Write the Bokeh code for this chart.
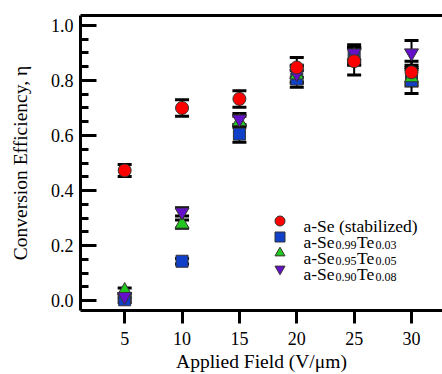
from bokeh.plotting import figure
from bokeh.models import (ColumnDataSource, Whisker, TeeHead, LinearAxis, Legend, LegendItem,
                          SingleIntervalTicker, FixedTicker, PrintfTickFormatter, Range1d, Label)
from bokeh.embed import file_html
from bokeh.resources import INLINE

# ---- data ----
field = [5, 10, 15, 20, 25, 30]
se_stab = [0.473, 0.700, 0.733, 0.847, 0.870, 0.830]
se_stab_err = [0.022, 0.030, 0.030, 0.036, 0.050, 0.040]
te03 = [0.003, 0.143, 0.605, 0.805, 0.885, 0.800]
te03_err = [0.010, 0.010, 0.030, 0.030, 0.030, 0.047]
te05 = [0.036, 0.278, 0.650, 0.820, 0.890, 0.810]
te05_err = [0.010, 0.015, 0.020, 0.030, 0.030, 0.030]
te08 = [0.015, 0.322, 0.660, 0.825, 0.900, 0.900]
te08_err = [0.010, 0.015, 0.020, 0.030, 0.030, 0.045]
# legend labels: (main, subscript, main, subscript)
label_parts = [
    ("a-Se (stabilized)", "", "", ""),
    ("a-Se", "0.99", "Te", "0.03"),
    ("a-Se", "0.95", "Te", "0.05"),
    ("a-Se", "0.90", "Te", "0.08"),
]
x_ticks = [5, 10, 15, 20, 25, 30]

FONT = "Liberation Serif"

p = figure(width=442, height=374, output_backend="svg", toolbar_location=None,
           x_range=Range1d(1.15, 32.7), y_range=Range1d(-0.036, 1.036),
           min_border_left=80, min_border_right=0, min_border_top=15, min_border_bottom=64)
p.outline_line_color = None
p.xgrid.visible = False
p.ygrid.visible = False
p.background_fill_color = "white"
p.border_fill_color = "white"

xa = p.xaxis[0]
xa.ticker = FixedTicker(ticks=x_ticks)
xa.axis_label = "Applied Field (V/\u03bcm)"
ya = p.yaxis[0]
ya.ticker = SingleIntervalTicker(interval=0.2, num_minor_ticks=4)
ya.formatter = PrintfTickFormatter(format="%.1f")
ya.axis_label = "Conversion Efficiency, \u03b7"

for ax in (xa, ya):
    ax.axis_line_width = 3
    ax.major_tick_line_width = 3
    ax.minor_tick_line_width = 3
    ax.major_label_text_font = FONT
    ax.major_label_text_font_size = "18px"
    ax.major_label_text_color = "black"
    ax.axis_label_text_font = FONT
    ax.axis_label_text_font_size = "19.5px"
    ax.axis_label_text_font_style = "normal"
    ax.axis_label_text_color = "black"

xa.major_tick_in = 0
xa.major_tick_out = 13
xa.minor_tick_in = 0
xa.minor_tick_out = 0
xa.major_label_standoff = 8
xa.axis_label_standoff = 3

ya.major_tick_in = 16
ya.major_tick_out = 0
ya.minor_tick_in = 8
ya.minor_tick_out = 0
ya.major_label_standoff = 7
ya.axis_label_standoff = 17

top = LinearAxis(ticker=FixedTicker(ticks=[]), axis_line_width=3,
                 major_tick_in=0, major_tick_out=0, minor_tick_in=0, minor_tick_out=0,
                 major_label_text_font_size="0px")
p.add_layout(top, "above")

series = [
    (te03, te03_err, "square", "#1040C8", 12),
    (te05, te05_err, "triangle", "#22C81E", 14),
    (te08, te08_err, "inverted_triangle", "#6410C8", 14),
    (se_stab, se_stab_err, "circle", "#FF0000", 13),
]

rends = []
for vals, errs, marker, color, size in series:
    src = ColumnDataSource(dict(x=field, y=vals,
                                lo=[v - e for v, e in zip(vals, errs)],
                                hi=[v + e for v, e in zip(vals, errs)]))
    w = Whisker(source=src, base="x", lower="lo", upper="hi", line_width=2, line_color="black",
                upper_head=TeeHead(size=14, line_width=3, line_color="black"),
                lower_head=TeeHead(size=14, line_width=3, line_color="black"))
    p.add_layout(w)
    r = p.scatter("x", "y", source=src, marker=marker, size=size, fill_color=color,
                  line_color="#333333", line_width=1)
    rends.append(r)

# legend order: circle, square, up-triangle, down-triangle
legend_rends = [rends[3], rends[0], rends[1], rends[2]]
row_y = [77, 61, 45, 29]          # legend glyph box bottoms (px above frame bottom)
base_y = [85, 69, 53, 37]         # text baselines (px above frame bottom)
for r, gy, by, parts in zip(legend_rends, row_y, base_y, label_parts):
    lg = Legend(items=[LegendItem(label=" ", renderers=[r])], location=(187, gy),
                glyph_width=25, glyph_height=25, padding=0, margin=0, spacing=0,
                label_text_font_size="1px", border_line_color=None, background_fill_alpha=0)
    p.add_layout(lg, "center")
    main1, sub1, main2, sub2 = parts
    offs = [(main1, 0, 0, "17.5px"), (sub1, 32, -3, "12px"), (main2, 53.5, 0, "17.5px"),
            (sub2, 72, -3, "12px")]
    for txt, dx, dy, fs in offs:
        if txt:
            p.add_layout(Label(x=223 + dx, y=by + dy, x_units="screen", y_units="screen",
                               text=txt, text_font=FONT, text_font_size=fs,
                               text_align="left", text_baseline="alphabetic", text_color="black"))

open("out.html", "w").write(file_html(p, INLINE))
